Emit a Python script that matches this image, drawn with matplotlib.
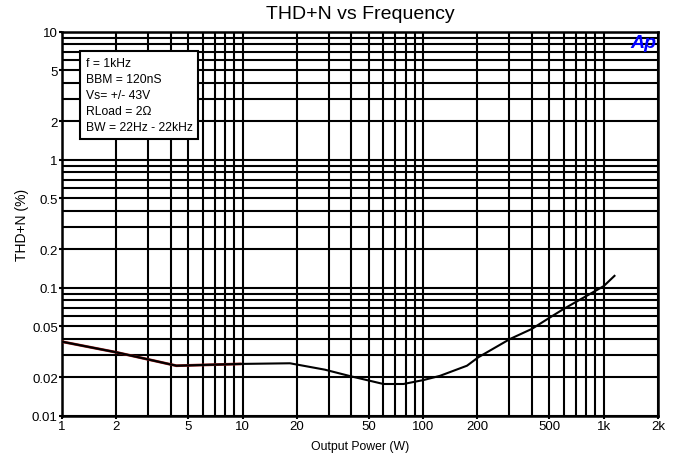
import numpy as np
import matplotlib
matplotlib.use("Agg")
import matplotlib.pyplot as plt
from matplotlib.ticker import FixedLocator, FixedFormatter, NullFormatter

plt.rcParams['font.family'] = ['Liberation Sans', 'DejaVu Sans']

# Data
power_w = [1.0, 2.0, 4.3, 9.7, 18.3, 28.6, 39.4, 60.3, 77.8, 100.4, 124, 175, 202,
           303, 400, 505, 599, 807, 1000, 1148]
thd_pct = [0.0379, 0.0313, 0.0246, 0.0254, 0.0257, 0.0229, 0.0204, 0.0177, 0.0177,
           0.0190, 0.0205, 0.0246, 0.0286, 0.0398, 0.0477, 0.0587, 0.0682, 0.0867,
           0.103, 0.124]
red_power_w = [1.0, 2.0, 4.3, 9.7]
red_thd_pct = [0.0379, 0.0313, 0.0246, 0.0254]

x_ticks = [1, 2, 5, 10, 20, 50, 100, 200, 500, 1000, 2000]
x_labels = ["1", "2", "5", "10", "20", "50", "100", "200", "500", "1k", "2k"]
y_ticks = [0.01, 0.02, 0.05, 0.1, 0.2, 0.5, 1, 2, 5, 10]
y_labels = ["0.01", "0.02", "0.05", "0.1", "0.2", "0.5", "1", "2", "5", "10"]

info_lines = ["f = 1kHz", "BBM = 120nS", "Vs= +/- 43V", "RLoad = 2\u03a9", "BW = 22Hz - 22kHz"]

fig = plt.figure(figsize=(6.83, 4.60), dpi=100)
ax = fig.add_axes([0.0908, 0.0941, 0.8726, 0.8342])
ax.set_xscale('log')
ax.set_yscale('log')
ax.set_xlim(1, 2000)
ax.set_ylim(0.01, 10)

x_minor = [m * d for d in (1, 10, 100) for m in range(1, 10)] + [1000]
x_minor = [v for v in x_minor if v not in x_ticks]
y_minor = [m * d for d in (0.01, 0.1, 1) for m in range(1, 10)]
y_minor = [v for v in y_minor if not any(abs(v - t) < 1e-9 for t in y_ticks)]

ax.xaxis.set_major_locator(FixedLocator(x_ticks))
ax.xaxis.set_major_formatter(FixedFormatter(x_labels))
ax.xaxis.set_minor_locator(FixedLocator(x_minor))
ax.xaxis.set_minor_formatter(NullFormatter())
ax.yaxis.set_major_locator(FixedLocator(y_ticks))
ax.yaxis.set_major_formatter(FixedFormatter(y_labels))
ax.yaxis.set_minor_locator(FixedLocator(y_minor))
ax.yaxis.set_minor_formatter(NullFormatter())

ax.grid(True, which='both', color='black', linewidth=1.5)
ax.tick_params(which='major', length=2, width=1.5, pad=1, labelsize=9.5, colors='black')
ax.tick_params(which='minor', length=0)
for s in ax.spines.values():
    s.set_linewidth(1.8)
    s.set_color('black')

ax.plot(red_power_w, red_thd_pct, color='#a01818', linewidth=2.0, zorder=3)
ax.plot(power_w, thd_pct, color='black', linewidth=1.5, zorder=4)

ax.set_title("THD+N vs Frequency", fontsize=14, pad=10)
ax.set_xlabel("Output Power (W)", fontsize=8.8, labelpad=6)
ax.set_ylabel("THD+N (%)", fontsize=10, labelpad=2)

ax.text(0.040, 0.935, "\n".join(info_lines), transform=ax.transAxes, fontsize=8.7,
        va='top', ha='left', linespacing=1.45, zorder=6,
        bbox=dict(boxstyle='square,pad=0.45', facecolor='white', edgecolor='black', linewidth=1.5))

ax.text(0.998, 0.995, "Ap", transform=ax.transAxes, fontsize=14, fontweight='bold',
        fontstyle='italic', color='#0000ff', ha='right', va='top', zorder=6)

fig.savefig("out.png", dpi=100)
